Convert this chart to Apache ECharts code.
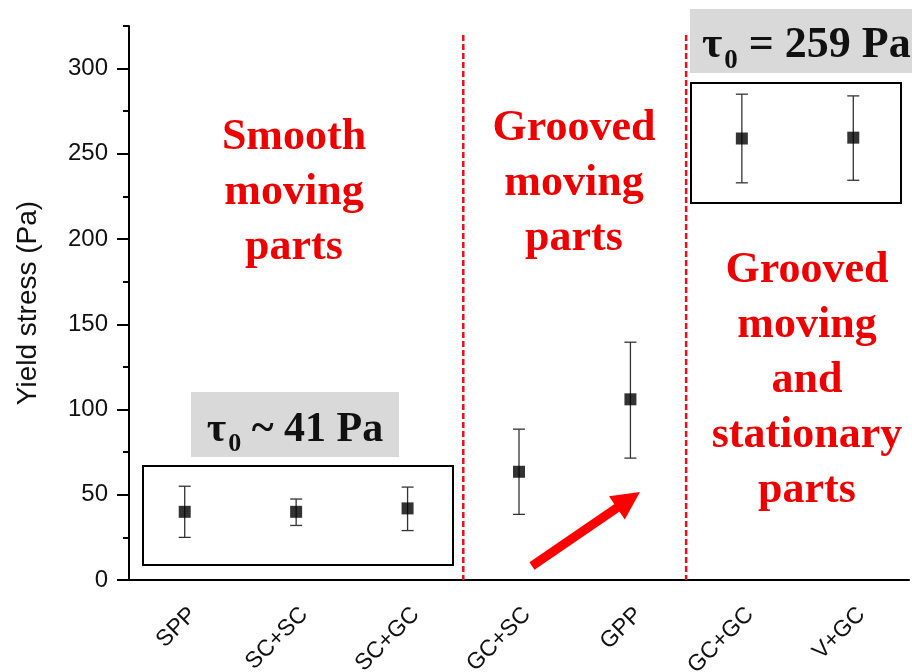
<!DOCTYPE html>
<html>
<head>
<meta charset="utf-8">
<script src="https://cdn.jsdelivr.net/npm/echarts@6/dist/echarts.min.js"></script>
<style>
  html, body { margin: 0; padding: 0; background: #fff; }
  #chart { width: 912px; height: 672px; }
</style>
</head>
<body>
<div id="chart"></div>
<script>
// Test configurations along the x axis
const categories = ['SPP', 'SC+SC', 'SC+GC', 'GC+SC', 'GPP', 'GC+GC', 'V+GC'];
// Mean yield stress (Pa) and the ends of each error bar
const means = [40, 40, 42, 63.5, 106, 259, 259.5];
const lower = [25, 32, 29, 38.5, 71.5, 233, 234.5];
const upper = [55, 47.5, 54.5, 88.5, 139.5, 285, 284];
// Y axis range and ticks
const yMin = 0;
const yMax = 325;
const majorTicks = [0, 50, 100, 150, 200, 250, 300];
const minorTicks = [25, 75, 125, 175, 225, 275, 325];

const RED = '#ee0000';
const SERIF = '"Liberation Serif", "Times New Roman", serif';
const SANS = '"Liberation Sans", Arial, sans-serif';

const chart = echarts.init(document.getElementById('chart'), null, { renderer: 'canvas' });

function renderErrorBar(params, api) {
  const x = api.value(0);
  const top = api.coord([x, api.value(2)]);
  const bot = api.coord([x, api.value(1)]);
  const hw = 6;
  const style = { stroke: '#333', lineWidth: 1.3 };
  return {
    type: 'group',
    children: [
      { type: 'line', shape: { x1: top[0], y1: top[1], x2: bot[0], y2: bot[1] }, style },
      { type: 'line', shape: { x1: top[0] - hw, y1: top[1], x2: top[0] + hw, y2: top[1] }, style },
      { type: 'line', shape: { x1: bot[0] - hw, y1: bot[1], x2: bot[0] + hw, y2: bot[1] }, style }
    ]
  };
}

chart.setOption({
  animation: false,
  backgroundColor: '#fff',
  grid: { left: 129, right: 3, top: 26, bottom: 92, containLabel: false, outerBoundsMode: 'none' },
  xAxis: {
    type: 'category',
    data: categories,
    boundaryGap: true,
    axisLine: { lineStyle: { color: '#000', width: 2 } },
    axisTick: { alignWithLabel: true, length: 12, lineStyle: { color: '#000', width: 2 } },
    axisLabel: { rotate: 45, fontSize: 23, fontFamily: SANS, color: '#111', margin: 23, verticalAlign: 'top', interval: 0 },
    splitLine: { show: false }
  },
  yAxis: [
    {
      type: 'value',
      min: yMin,
      max: yMax,
      name: 'Yield stress (Pa)',
      nameLocation: 'middle',
      nameGap: 87,
      nameRotate: 90,
      nameTextStyle: { fontSize: 28, fontFamily: SANS, color: '#111' },
      axisLine: { show: true, lineStyle: { color: '#000', width: 2 } },
      axisTick: { show: true, length: 12, customValues: majorTicks, lineStyle: { color: '#000', width: 2 } },
      axisLabel: { customValues: majorTicks, fontSize: 24, fontFamily: SANS, color: '#111', margin: 21 },
      splitLine: { show: false }
    },
    {
      type: 'value',
      min: yMin,
      max: yMax,
      position: 'left',
      axisLine: { show: false },
      axisTick: { show: true, length: 6, customValues: minorTicks, lineStyle: { color: '#000', width: 2 } },
      axisLabel: { show: false },
      splitLine: { show: false }
    }
  ],
  series: [
    {
      type: 'custom',
      renderItem: renderErrorBar,
      data: categories.map((c, i) => [i, lower[i], upper[i]]),
      z: 3
    },
    {
      type: 'scatter',
      data: means,
      symbol: 'rect',
      symbolSize: 12,
      itemStyle: { color: '#000' },
      z: 4
    }
  ]
});

// Annotations: section dividers, highlight boxes, labels and the trend arrow
function buildGraphics() {
  const px = (i) => chart.convertToPixel({ xAxisIndex: 0 }, i);
  const py = (v) => chart.convertToPixel({ yAxisIndex: 0 }, v);
  const y0 = py(0);
  const div1 = (px(2) + px(3)) / 2;
  const div2 = (px(4) + px(5)) / 2;

  const dashed = (x) => ({
    type: 'line',
    shape: { x1: x, y1: 35, x2: x, y2: y0 },
    style: { stroke: '#e8101a', lineWidth: 2.5, lineDash: [6, 3] },
    z: 1
  });

  const redText = (x, y, text) => ({
    type: 'text',
    x, y,
    style: {
      text,
      font: 'bold 44px ' + SERIF,
      fill: RED,
      align: 'center',
      verticalAlign: 'middle',
      lineHeight: 55
    },
    z: 2
  });

  const tauLabel = (x, y, text, size, align) => ({
    type: 'text',
    x, y,
    style: {
      text: '{t|τ}{s|0}{t|' + text + '}',
      align,
      verticalAlign: 'middle',
      rich: {
        t: { font: 'bold ' + size + 'px ' + SERIF, fill: '#111' },
        s: { font: 'bold ' + Math.round(size * 0.62) + 'px ' + SERIF, fill: '#111', padding: [Math.round(size * 0.7), 0, 0, 2] }
      }
    },
    z: 6
  });

  // arrow geometry
  const ax0 = 532, ay0 = 566, ax1 = 640, ay1 = 492;
  const len = Math.hypot(ax1 - ax0, ay1 - ay0);
  const ux = (ax1 - ax0) / len, uy = (ay1 - ay0) / len;
  const nx = -uy, ny = ux;
  const headLen = 28, headHalf = 14;
  const bx = ax1 - ux * headLen, by = ay1 - uy * headLen;

  chart.setOption({
    graphic: [
      dashed(div1),
      dashed(div2),
      // low-value group box and label
      { type: 'rect', shape: { x: 143, y: 466, width: 310, height: 99 }, style: { fill: 'none', stroke: '#000', lineWidth: 2 }, z: 1 },
      { type: 'rect', shape: { x: 191, y: 392, width: 208, height: 65 }, style: { fill: '#d9d9d9' }, z: 5 },
      tauLabel(295, 430, ' ~ 41 Pa', 42, 'center'),
      // high-value group box and label
      { type: 'rect', shape: { x: 691, y: 83, width: 210, height: 120 }, style: { fill: 'none', stroke: '#000', lineWidth: 2 }, z: 1 },
      { type: 'rect', shape: { x: 690, y: 9, width: 230, height: 64 }, style: { fill: '#d9d9d9' }, z: 5 },
      tauLabel(702, 46, ' = 259 Pa', 44, 'left'),
      // section titles
      redText(294, 193, 'Smooth\nmoving\nparts'),
      redText(574, 184, 'Grooved\nmoving\nparts'),
      redText(807, 381, 'Grooved\nmoving\nand\nstationary\nparts'),
      // trend arrow
      { type: 'line', shape: { x1: ax0, y1: ay0, x2: bx + ux * 2, y2: by + uy * 2 }, style: { stroke: '#ff0000', lineWidth: 9 }, z: 2 },
      { type: 'polygon', shape: { points: [[ax1, ay1], [bx + nx * headHalf, by + ny * headHalf], [bx - nx * headHalf, by - ny * headHalf]] }, style: { fill: '#ff0000' }, z: 2 }
    ]
  });
}
buildGraphics();
</script>
</body>
</html>
